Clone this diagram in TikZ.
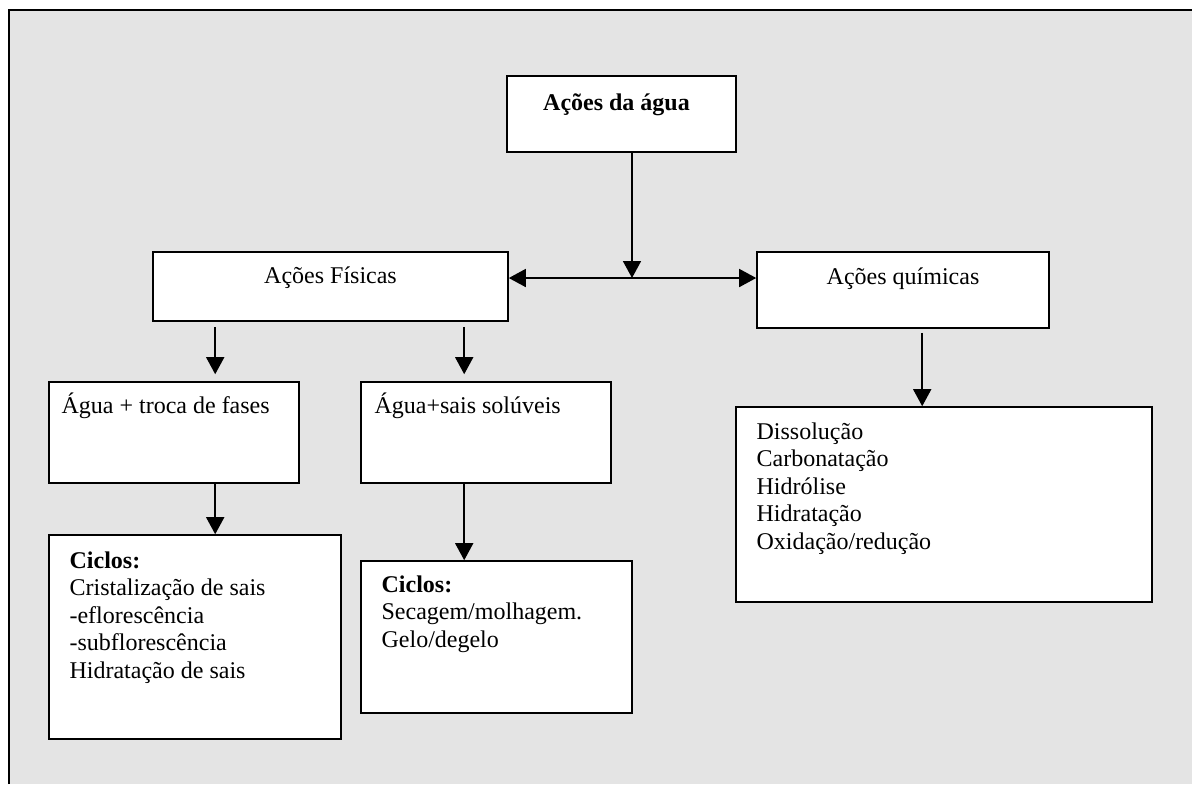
\documentclass[tikz,border=0pt]{standalone}
\usepackage{fontspec}
\setmainfont{Liberation Serif}
\usetikzlibrary{arrows.meta,calc}
\definecolor{pagegray}{HTML}{E4E4E4}
\tikzset{
  box/.style={draw, fill=white, line width=0.8pt, inner sep=0pt},
  txt/.style={inner sep=0pt, font=\fontsize{12}{13.75}\selectfont},
  arr/.style={line width=0.8pt, -{Triangle[width=9pt,length=8.5pt]}}
}

\begin{document}
\begin{tikzpicture}[x=0.5pt, y=-0.5pt]
\useasboundingbox (0,0) rectangle (1192,784);
% page frame
\fill[pagegray] (9,10) rectangle (1192,784);
\draw[line width=1pt] (9,784) |- (1192,10);

% Boxes
\node[box, minimum width=114.5pt, minimum height=38pt] (agua) at (621.5,114) {};
\node[box, minimum width=177.5pt, minimum height=34.5pt] (fis) at (330.5,286.5) {};
\node[box, minimum width=146pt, minimum height=38pt] (qui) at (903,290) {};
\node[box, minimum width=125pt, minimum height=50.5pt] (tro) at (174,432.5) {};
\node[box, minimum width=125pt, minimum height=50.5pt] (sol) at (486,432.5) {};
\node[box, minimum width=146pt, minimum height=102pt] (cic1) at (195,637) {};
\node[box, minimum width=135.5pt, minimum height=76pt] (cic2) at (496.5,637) {};
\node[box, minimum width=208pt, minimum height=97.5pt] (qlist) at (944,504.5) {};

% Texts
\node[txt, anchor=base] (agua-t) at ($(agua.north)+(-5,35)$) {\textbf{Ações da água}};
\node[txt, anchor=base] (fis-t) at ($(fis.north)+(0,32)$) {Ações Físicas};
\node[txt, anchor=base] (qui-t) at ($(qui.north)+(0,33)$) {Ações químicas};
\node[txt, anchor=base west] (tro-t) at ($(tro.north west)+(13,32)$) {Água + troca de fases};
\node[txt, anchor=base west] (sol-t) at ($(sol.north west)+(14,32)$) {Água+sais solúveis};
\foreach \line [count=\i from 0] in {\textbf{Ciclos:},Cristalização de sais,-eflorescência,-subflorescência,Hidratação de sais}
  \node[txt, anchor=base west] (cic1-\i) at ($(cic1.north west)+(21,34+27.5*\i)$) {\line};
\foreach \line [count=\i from 0] in {\textbf{Ciclos:},Secagem/molhagem.,Gelo/degelo}
  \node[txt, anchor=base west] (cic2-\i) at ($(cic2.north west)+(21,32+27.5*\i)$) {\line};
\foreach \line [count=\i from 0] in {Dissolução,Carbonatação,Hidrólise,Hidratação,Oxidação/redução}
  \node[txt, anchor=base west] (ql-\i) at ($(qlist.north west)+(21,33+27.5*\i)$) {\line};

% Connectors
\coordinate (jn) at (632,278);
\draw[arr] (agua.south -| jn) -- (jn);
\draw[arr] (jn) -- (fis.east |- jn);
\draw[arr] (jn) -- (qui.west |- jn);
\draw[arr] ($(fis.south west)+(63,5)$) -- ($(tro.north west)+(167,-7)$);
\draw[arr] ($(fis.south west)+(312,5)$) -- ($(sol.north west)+(104,-7)$);
\draw[arr] ($(tro.south west)+(167,0)$) -- ($(cic1.north west)+(167,0)$);
\draw[arr] ($(sol.south west)+(104,0)$) -- ($(cic2.north west)+(104,0)$);
\draw[arr] ($(qui.south west)+(166,4)$) -- ($(qlist.north west)+(187,0)$);
\end{tikzpicture}
\end{document}
